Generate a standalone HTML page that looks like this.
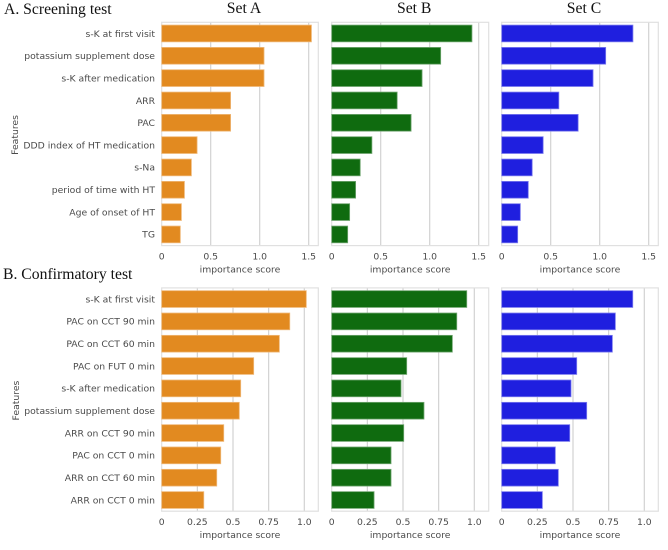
<!DOCTYPE html>
<html lang="en">
<head>
<meta charset="utf-8">
<title>Feature importance</title>
<style>
html,body{margin:0;padding:0;background:#fff;}
svg{display:block;}
.tick{font-family:"DejaVu Sans",sans-serif;font-size:9.25px;fill:#4a4a4a;}
.title{font-family:"Liberation Serif",serif;font-size:15.7px;fill:#111;}
</style>
</head>
<body>
<svg id="chart" xmlns="http://www.w3.org/2000/svg" width="668" height="550" viewBox="0 0 668 550"></svg>
<script>
const screeningFeatures = ["s-K at first visit","potassium supplement dose","s-K after medication","ARR","PAC","DDD index of HT medication","s-Na","period of time with HT","Age of onset of HT","TG"];
const confirmatoryFeatures = ["s-K at first visit","PAC on CCT 90 min","PAC on CCT 60 min","PAC on FUT 0 min","s-K after medication","potassium supplement dose","ARR on CCT 90 min","PAC on CCT 0 min","ARR on CCT 60 min","ARR on CCT 0 min"];
const screeningSetA = [1.528,1.044,1.044,0.703,0.703,0.361,0.303,0.232,0.201,0.190];
const screeningSetB = [1.431,1.112,0.922,0.668,0.810,0.410,0.291,0.244,0.183,0.163];
const screeningSetC = [1.339,1.061,0.932,0.583,0.780,0.423,0.311,0.271,0.190,0.163];
const confirmatorySetA = [1.014,0.898,0.825,0.645,0.554,0.544,0.435,0.414,0.386,0.295];
const confirmatorySetB = [0.947,0.877,0.846,0.526,0.486,0.647,0.505,0.416,0.416,0.297];
const confirmatorySetC = [0.919,0.797,0.776,0.526,0.486,0.596,0.477,0.376,0.397,0.285];
const screeningTicks = [0,0.5,1.0,1.5];
const screeningTickLabels = ["0","0.5","1.0","1.5"];
const confirmatoryTicks = [0,0.25,0.5,0.75,1.0];
const confirmatoryTickLabels = ["0","0.25","0.5","0.75","1.0"];
const setNames = ["Set A","Set B","Set C"];

const svg = document.getElementById('chart');
const NS = 'http://www.w3.org/2000/svg';

function shape(tag, props, parent){
  const el = document.createElementNS(NS, tag);
  for (const k in props) el.setAttribute(k, props[k]);
  (parent || svg).appendChild(el);
  return el;
}
function xScale(x0, unit){ return v => x0 + v * unit; }
function yBand(top, step){ return i => top + step * i; }

function drawPanel(cfg){
  const g = shape('g', {});
  
  
  const x = xScale(cfg.x0, cfg.unit);
  const y = yBand(cfg.top, cfg.step);
  const bottom = y(cfg.values.length);

  cfg.ticks.forEach((t, i) => {
    if (t !== 0) {
      const grid = shape('line', {x1:x(t), x2:x(t), y1:cfg.top, y2:bottom, stroke:'#d2d2d2', 'stroke-width':1.2}, g);
      
      
    }
    const lab = shape('text', {x:x(t), y:bottom + 14, 'text-anchor':'middle', class:'tick'}, g);
    lab.textContent = cfg.tickLabels[i];
    
    
  });

  const frame = shape('rect', {x:cfg.left, y:cfg.top, width:cfg.right - cfg.left, height:bottom - cfg.top, fill:'none', stroke:'#e0e0e0', 'stroke-width':1.2}, g);
  
  

  cfg.values.forEach((v, i) => {
    const bar = shape('rect', {x:x(0), y:y(i) + cfg.step * 0.125, width:x(v) - x(0), height:cfg.step * 0.75, fill:cfg.color, stroke:cfg.edge, 'stroke-width':0.8}, g);
    
    
    if (cfg.labels) {
      const lab = shape('text', {x:cfg.left - 6.7, y:y(i) + cfg.step / 2 + 3.3, 'text-anchor':'end', class:'tick'}, g);
      lab.textContent = cfg.labels[i];
      
      
    }
  });

  const xt = shape('text', {x:(cfg.left + cfg.right) / 2, y:bottom + 27, 'text-anchor':'middle', class:'tick'}, g);
  xt.textContent = 'importance score';
  
  

  if (cfg.labels) {
    const cy = (cfg.top + bottom) / 2 + 1;
    const yt = shape('text', {x:0, y:0, transform:'translate(' + cfg.yTitleX + ' ' + cy + ') rotate(-90)', 'text-anchor':'middle', class:'tick'}, g);
    yt.textContent = 'Features';
    
    
  }
}

const palette = [
  {color:'#e28a20', edge:'#efb878'},
  {color:'#0f6b0f', edge:'#6fa56f'},
  {color:'#1f1fdf', edge:'#7a7aee'}
];
const columns = [
  {left:161.7, right:318.3, x0:161.7},
  {left:331.7, right:488.7, x0:331.7},
  {left:501.7, right:658.3, x0:501.7}
];
const screeningData = [screeningSetA, screeningSetB, screeningSetC];
const confirmatoryData = [confirmatorySetA, confirmatorySetB, confirmatorySetC];

columns.forEach((c, i) => {
  drawPanel({
    name:'screening-panel-' + 'abc'[i], left:c.left, right:c.right, x0:c.x0, unit:98,
    top:22.3, step:22.33, values:screeningData[i], ticks:screeningTicks, tickLabels:screeningTickLabels,
    color:palette[i].color, edge:palette[i].edge, labels:i === 0 ? screeningFeatures : null, yTitleX:18
  });
  drawPanel({
    name:'confirmatory-panel-' + 'abc'[i], left:c.left, right:c.right, x0:c.x0, unit:142.6,
    top:287.9, step:22.33, values:confirmatoryData[i], ticks:confirmatoryTicks, tickLabels:confirmatoryTickLabels,
    color:palette[i].color, edge:palette[i].edge, labels:i === 0 ? confirmatoryFeatures : null, yTitleX:19
  });
  const st = shape('text', {x:(c.left + c.right) / 2 + 4, y:13, 'text-anchor':'middle', class:'title'});
  st.textContent = setNames[i];
  
  
});

const titleA = shape('text', {x:4, y:14, class:'title'});
titleA.textContent = 'A. Screening test';



const titleB = shape('text', {x:3, y:279, class:'title'});
titleB.textContent = 'B. Confirmatory test';


</script>
</body>
</html>
